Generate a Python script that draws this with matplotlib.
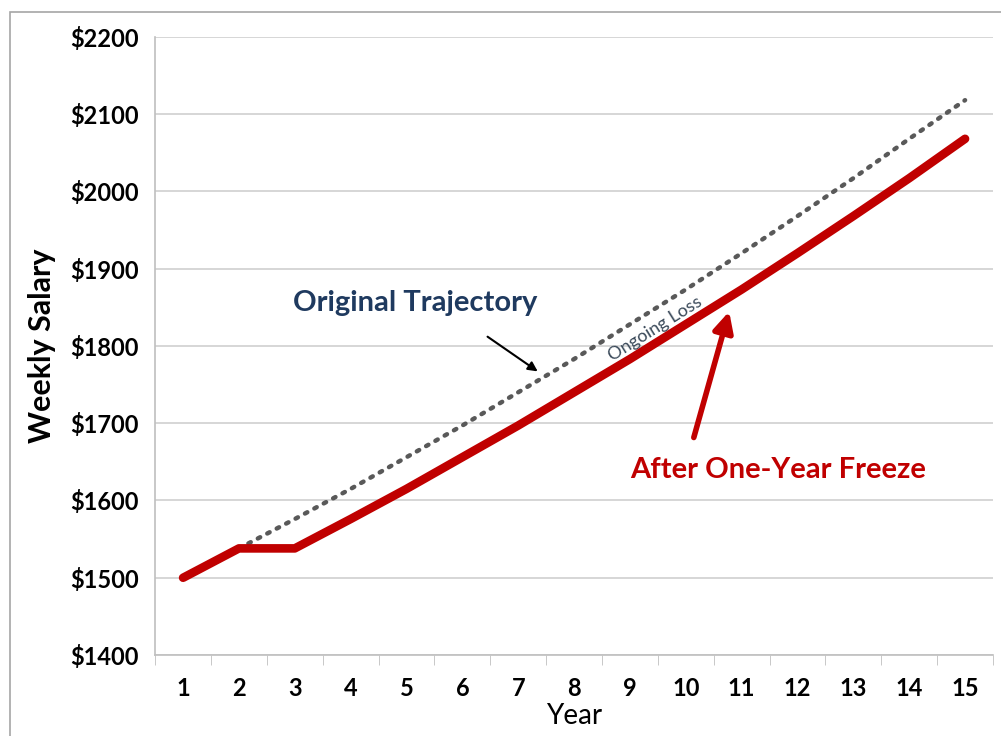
import matplotlib.pyplot as plt
from matplotlib.patches import Rectangle

plt.rcParams['font.family'] = ['Lato', 'DejaVu Sans']

years = list(range(1, 16))
freeze = [1500, 1538, 1538, 1576, 1615, 1656, 1697, 1740, 1783, 1828, 1873, 1920, 1968, 2017, 2068]
orig_years = list(range(2, 16))
original = [1538, 1576, 1615, 1656, 1697, 1740, 1783, 1828, 1873, 1920, 1968, 2017, 2068, 2118]
yticks = [1400, 1500, 1600, 1700, 1800, 1900, 2000, 2100, 2200]

fig = plt.figure(figsize=(10.01, 7.36), dpi=100)
ax = fig.add_axes([0.155, 0.110, 0.837, 0.840])

# outer frame of the chart
fig.patches.append(Rectangle((10/1001, -0.1), 1.2, 0.1 + 1 - 12/736, transform=fig.transFigure,
                             fill=False, edgecolor='#a6a6a6', linewidth=1.2))

ax.plot(orig_years, original, color='#595959', linestyle=(0, (0.6, 1.8)),
        linewidth=3.2, dash_capstyle='round', zorder=3)
ax.plot(years, freeze, color='#c00000', linewidth=6.2, solid_capstyle='round',
        solid_joinstyle='round', zorder=4)

ax.set_xlim(0.5, 15.5)
ax.set_ylim(1400, 2200)
ax.set_yticks(yticks)
ax.set_yticklabels(['$%d' % v for v in yticks], fontsize=17, fontweight='bold')
ax.set_xticks(years)
ax.set_xticklabels([str(y) for y in years], fontsize=17, fontweight='bold')
ax.set_xticks([y + 0.5 for y in range(0, 16)], minor=True)
ax.tick_params(axis='x', which='major', length=0, pad=16)
ax.tick_params(axis='x', which='minor', length=7, color='#bfbfbf', direction='out')
ax.tick_params(axis='y', length=0, pad=12)

ax.grid(axis='y', color='#d0d0d0', linewidth=1.2)
ax.set_axisbelow(True)
for s in ['top', 'right']:
    ax.spines[s].set_visible(False)
ax.spines['left'].set_color('#bfbfbf')
ax.spines['bottom'].set_color('#bfbfbf')
ax.spines['left'].set_linewidth(1.2)
ax.spines['bottom'].set_linewidth(1.2)

ax.set_ylabel('Weekly Salary', fontsize=22, fontweight='bold', labelpad=10)
ax.set_xlabel('Year', fontsize=20, labelpad=2)

ax.text(5.15, 1856, 'Original Trajectory', fontsize=21, fontweight='bold',
        color='#1f3a5f', ha='center', va='center')
ax.annotate('', xy=(7.39, 1765), xytext=(6.41, 1814),
            arrowprops=dict(arrowstyle='-|>', color='black', lw=1.5, mutation_scale=14))

ax.text(11.65, 1640, 'After One-Year Freeze', fontsize=21, fontweight='bold',
        color='#c00000', ha='center', va='center')
ax.annotate('', xy=(10.79, 1848), xytext=(10.13, 1678),
            arrowprops=dict(arrowstyle='-|>', color='#c00000', lw=4, mutation_scale=30))

ax.text(9.45, 1822, 'Ongoing Loss', fontsize=13, color='#3b4a5a', rotation=32,
        ha='center', va='center', rotation_mode='anchor')

fig.savefig('out.png', dpi=100)
